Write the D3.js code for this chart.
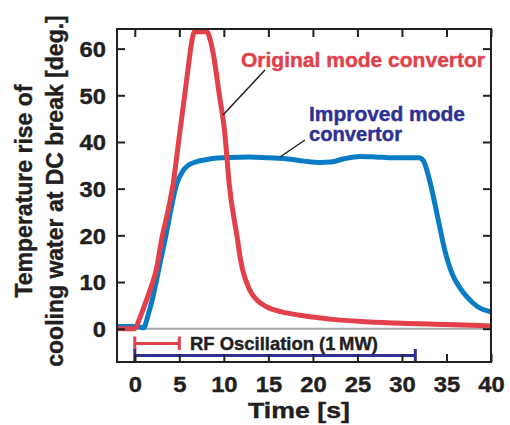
<!DOCTYPE html>
<html lang="en">
  <head>
    <meta charset="utf-8">
    <title>DC break temperature rise</title>
    <style>
      body { margin: 0; background: #fff; }
      svg text { font-family: "Liberation Sans", Arial, sans-serif; font-weight: bold; }
    </style>
  </head>
  <body>
    <svg class="chart"></svg>

    <script src="https://d3js.org/d3.v7.min.js"></script>
    <script type="text/javascript">
      // values
      var origTime = [-2, 0, 0.5, 1, 1.8, 2.4, 3.05, 3.7, 4.3, 5.05, 5.6, 6.1, 6.4, 6.7, 7.5, 8.1, 8.45, 8.8, 9.5, 10.1, 10.6, 11.5, 11.9, 12.9, 13.8, 14.8, 16.5, 18.5, 20, 22.2, 26, 30, 35, 40];
      var origTemp = [0, 0, 2, 4.5, 8.8, 12.5, 19.5, 25, 31, 42, 50, 57.5, 61.5, 63.6, 63.6, 63.6, 62, 59, 50, 42, 31, 19.5, 14.5, 8.3, 6, 4.7, 3.6, 2.9, 2.5, 2.0, 1.5, 1.15, 0.9, 0.6];

      var imprTime = [-2, 0, 0.5, 1, 1.5, 2, 2.4, 3, 3.5, 4, 4.7, 5.4, 6, 7, 8, 9, 10.7, 12.9, 15, 17, 19, 20.8, 22, 23.5, 25.3, 27, 29, 31.9, 32.4, 33.1, 34, 34.8, 35.7, 36.5, 37.3, 38.5, 40];
      var imprTemp = [0.5, 0.5, 0.4, 0.2, 3, 6.5, 10, 15.5, 20, 25, 31, 33.8, 35, 35.8, 36.2, 36.5, 36.7, 36.8, 36.6, 36.4, 35.9, 35.6, 35.7, 36.4, 36.9, 36.8, 36.6, 36.6, 36.0, 31.8, 24, 16.9, 11.5, 8.8, 6.8, 4.7, 3.6];

      var xTicks = [0, 5, 10, 15, 20, 25, 30, 35, 40];
      var yTicks = [0, 10, 20, 30, 40, 50, 60];

      // RF oscillation periods [start, end] in s
      var rfOrig = [0, 5];
      var rfImpr = [0, 31.5];

      var w = 510;
      var h = 425;
      var m = {left: 117, right: 19, top: 29, bottom: 63};

      var red = '#e2404a';
      var blue = '#0a7cc4';
      var navy = '#2e3192';
      var ink = '#231f20';
      var sx = 1.08; // the lettering is a little wider than plain Helvetica

      var svg = d3.select('.chart')
                  .attr('width', w)
                  .attr('height', h);

      var x = d3.scaleLinear().domain([-2, 40]).range([m.left, w - m.right]);
      var y = d3.scaleLinear().domain([-7.13, 64.2]).range([h - m.bottom, m.top]);

      svg.append('clipPath')
         .attr('id', 'plot')
         .append('rect')
         .attr('x', m.left)
         .attr('y', m.top)
         .attr('width', w - m.left - m.right)
         .attr('height', h - m.top - m.bottom);

      // zero line
      svg.append('line')
         .attr('x1', x(-2)).attr('x2', x(40))
         .attr('y1', y(0)).attr('y2', y(0))
         .attr('stroke', '#a7a9ac')
         .attr('stroke-width', 2);

      var line = d3.line()
                   .x(function(d) { return x(d[0]); })
                   .y(function(d) { return y(d[1]); })
                   .curve(d3.curveMonotoneX);

      var plot = svg.append('g').attr('clip-path', 'url(#plot)');

      plot.append('path')
          .datum(d3.zip(imprTime, imprTemp))
          .attr('d', line)
          .attr('fill', 'none')
          .attr('stroke', blue)
          .attr('stroke-width', 5);

      plot.append('path')
          .datum(d3.zip(origTime, origTemp))
          .attr('d', line)
          .attr('fill', 'none')
          .attr('stroke', red)
          .attr('stroke-width', 5);

      // RF oscillation bars
      function rfBar(span, yv, capTop, capBot, col) {
        var g = svg.append('g').attr('stroke', col).attr('stroke-width', 3);
        g.append('line')
         .attr('x1', x(span[0])).attr('x2', x(span[1]))
         .attr('y1', yv).attr('y2', yv);
        span.forEach(function(t) {
          g.append('line')
           .attr('x1', x(t)).attr('x2', x(t))
           .attr('y1', capTop).attr('y2', capBot);
        });
      }
      rfBar(rfOrig, 343.5, 336.5, 350, red);
      rfBar(rfImpr, 355.5, 349, 362, navy);

      function label(xp, yp, size, len, col, str) {
        return svg.append('text')
                  .attr('x', xp).attr('y', yp)
                  .attr('font-size', size)
                  .attr('fill', col)
                  .attr('stroke', col)
                  .attr('stroke-width', 0.4)
                  .attr('textLength', len)
                  .attr('lengthAdjust', 'spacingAndGlyphs')
                  .text(str);
      }

      label(190, 350, 18, 188, ink, 'RF Oscillation (1\u2009MW)');

      // axes, ticks pointing inward
      var axB = svg.append('g')
                   .attr('transform', 'translate(0,' + (h - m.bottom) + ')')
                   .call(d3.axisBottom(x).tickValues(xTicks).tickSize(-8).tickPadding(14));
      var axT = svg.append('g')
                   .attr('transform', 'translate(0,' + m.top + ')')
                   .call(d3.axisTop(x).tickValues(xTicks).tickSize(-8).tickFormat(''));
      var axL = svg.append('g')
                   .attr('transform', 'translate(' + m.left + ',0)')
                   .call(d3.axisLeft(y).tickValues(yTicks).tickSize(-8).tickPadding(11));
      var axR = svg.append('g')
                   .attr('transform', 'translate(' + (w - m.right) + ',0)')
                   .call(d3.axisRight(y).tickValues(yTicks).tickSize(-8).tickFormat(''));

      [axB, axT, axL, axR].forEach(function(a) {
        a.select('.domain').remove();
        a.selectAll('.tick line').attr('stroke', ink).attr('stroke-width', 2);
        a.selectAll('.tick text')
         .attr('fill', ink)
         .attr('stroke', ink)
         .attr('stroke-width', 0.4)
         .style('font-size', '22px')
         .style('font-family', '"Liberation Sans", Arial, sans-serif')
         .style('font-weight', 'bold');
      });
      axB.selectAll('.tick text').attr('transform', 'scale(' + sx + ',1)');
      axL.selectAll('.tick text')
         .attr('dy', '0.36em')
         .attr('x', -11 / sx)
         .attr('transform', 'scale(' + sx + ',1)');

      svg.append('rect')
         .attr('x', m.left).attr('y', m.top)
         .attr('width', w - m.left - m.right)
         .attr('height', h - m.top - m.bottom)
         .attr('fill', 'none')
         .attr('stroke', ink)
         .attr('stroke-width', 2);

      // axis titles
      label(248, 418, 22.5, 102, ink, 'Time [s]');

      var yt = svg.append('text')
                  .attr('transform', 'translate(0,191) rotate(-90)')
                  .attr('text-anchor', 'middle')
                  .attr('font-size', 23)
                  .attr('fill', ink)
                  .attr('stroke', ink)
                  .attr('stroke-width', 0.4);
      yt.append('tspan').attr('x', 0).attr('y', 32).text('Temperature rise of');
      yt.append('tspan').attr('x', 0).attr('y', 63).text('cooling water at DC break [deg.]');

      // curve labels and leaders
      label(241, 67, 20, 244, red, 'Original mode convertor');
      svg.append('line')
         .attr('x1', 265).attr('y1', 70)
         .attr('x2', 223).attr('y2', 115)
         .attr('stroke', ink).attr('stroke-width', 1.5);

      label(309, 121, 20, 156, navy, 'Improved mode');
      label(309, 141, 20, 93, navy, 'convertor');
      svg.append('line')
         .attr('x1', 305).attr('y1', 140)
         .attr('x2', 280).attr('y2', 157)
         .attr('stroke', ink).attr('stroke-width', 1.5);
    </script>
  </body>
</html>
